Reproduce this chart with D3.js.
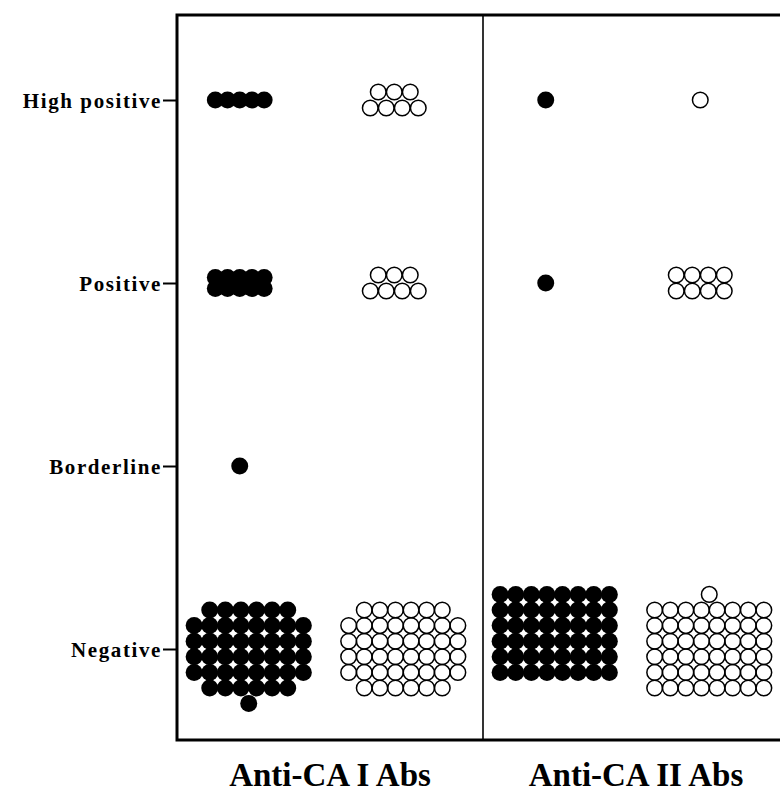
<!DOCTYPE html>
<html>
<head>
<meta charset="utf-8">
<script src="https://cdn.jsdelivr.net/npm/d3@7"></script>
<style>
  html, body { margin: 0; padding: 0; background: #fff; }
  svg { display: block; }
</style>
</head>
<body>
<svg id="chart" width="780" height="795"></svg>
<script>
// ---------------- DATA ----------------
const categories = ["High positive", "Positive", "Borderline", "Negative"];
const panels = ["Anti-CA I Abs", "Anti-CA II Abs"];
const markers = ["filled", "open"];

// dots per stacked row (top to bottom) for each category, in the order of `categories`
const caIFilledRows  = [[5], [5, 5], [1], [6, 8, 8, 8, 8, 6, 1]];
const caIOpenRows    = [[3, 4], [3, 4], [], [6, 8, 8, 8, 8, 6]];
const caIIFilledRows = [[1], [1], [], [8, 8, 8, 8, 8, 8]];
const caIIOpenRows   = [[1], [4, 4], [], [1, 8, 8, 8, 8, 8, 8]];

// ---------------- LAYOUT ----------------
const W = 780, H = 795;
const frame = { left: 177, top: 15, right: 789, bottom: 740 };
const serif = "'Liberation Serif', 'Times New Roman', serif";

const svg = d3.select("#chart");

const y = d3.scalePoint().domain(categories).range([100, 649]);
const panelX = d3.scaleBand().domain(panels).range([frame.left, frame.right]);
const markerX = d3.scalePoint().domain(markers)
  .range([0.205 * panelX.bandwidth(), 0.71 * panelX.bandwidth()]);

const series = [
  { panel: panels[0], marker: "filled", rows: caIFilledRows },
  { panel: panels[0], marker: "open",   rows: caIOpenRows },
  { panel: panels[1], marker: "filled", rows: caIIFilledRows },
  { panel: panels[1], marker: "open",   rows: caIIOpenRows }
];

// stacking steps (px); the big "Negative" clusters are packed tighter and sit a bit to the right
function stepFor(marker, cat) {
  if (cat === "Negative") return { dx: 15.6, dy: 15.6 };
  return marker === "filled" ? { dx: 12.2, dy: 11 } : { dx: 16, dy: 16 };
}
const negativeShift = 9;
const firstRowOffset = {
  "Anti-CA I Abs|filled": -2.5,
  "Anti-CA I Abs|open": -2.5,
  "Anti-CA II Abs|filled": -3.5,
  "Anti-CA II Abs|open": -3.5
};

const dots = [];
series.forEach(s => {
  categories.forEach((cat, ci) => {
    const rows = s.rows[ci];
    if (!rows.length) return;
    const st = stepFor(s.marker, cat);
    const cx0 = panelX(s.panel) + markerX(s.marker) + (cat === "Negative" ? negativeShift : 0);
    const start = cat === "Negative" ? firstRowOffset[s.panel + "|" + s.marker] : -(rows.length - 1) / 2;
    rows.forEach((n, ri) => {
      const cy = y(cat) + (start + ri) * st.dy;
      for (let k = 0; k < n; k++) {
        dots.push({ marker: s.marker, cx: cx0 + (k - (n - 1) / 2) * st.dx, cy });
      }
    });
  });
});

// ---------------- DRAW ----------------
svg.append("rect").attr("width", W).attr("height", H).attr("fill", "#fff");

svg.append("g").selectAll("circle")
  .data(dots.filter(d => d.marker === "filled"))
  .join("circle")
  .attr("cx", d => d.cx).attr("cy", d => d.cy)
  .attr("r", 8.5).attr("fill", "#000");

svg.append("g").selectAll("circle")
  .data(dots.filter(d => d.marker === "open"))
  .join("circle")
  .attr("cx", d => d.cx).attr("cy", d => d.cy)
  .attr("r", 7.8).attr("fill", "none")
  .attr("stroke", "#000").attr("stroke-width", 1.5);

// frame
const fg = svg.append("g").attr("fill", "none").attr("stroke", "#000");
fg.append("path")
  .attr("d", `M${W + 5},${frame.top}H${frame.left}V${frame.bottom}H${W + 5}`)
  .attr("stroke-width", 3);
fg.append("line")
  .attr("x1", panelX(panels[1])).attr("x2", panelX(panels[1]))
  .attr("y1", frame.top).attr("y2", frame.bottom)
  .attr("stroke-width", 1.6);

// y axis
const yAxis = svg.append("g")
  .attr("transform", `translate(${frame.left},0)`)
  .call(d3.axisLeft(y).tickSize(14).tickPadding(1));
yAxis.select(".domain").remove();
yAxis.selectAll(".tick line").attr("stroke", "#000").attr("stroke-width", 2);
yAxis.selectAll(".tick text")
  .attr("fill", "#000")
  .attr("dy", "0.35em")
  .style("font-family", serif)
  .style("font-weight", "bold")
  .style("font-size", "21px")
  .style("letter-spacing", "1.6px");

// panel labels
svg.append("g").selectAll("text")
  .data(panels)
  .join("text")
  .attr("x", d => panelX(d) + panelX.bandwidth() / 2)
  .attr("y", 786)
  .attr("text-anchor", "middle")
  .style("font-family", serif)
  .style("font-weight", "bold")
  .style("font-size", "33px")
  .attr("fill", "#000")
  .text(d => d);
</script>
</body>
</html>
